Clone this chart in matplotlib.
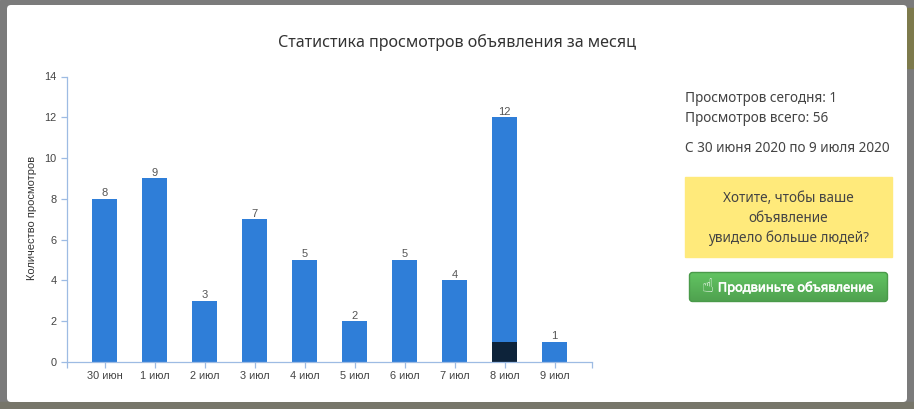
import numpy as np
import matplotlib
matplotlib.use('Agg')
import matplotlib.pyplot as plt
import matplotlib.patheffects as pe
from matplotlib.colors import LinearSegmentedColormap
from matplotlib.patches import FancyBboxPatch, Rectangle

W, H = 914, 409

days = ['30 июн', '1 июл', '2 июл', '3 июл', '4 июл', '5 июл', '6 июл', '7 июл', '8 июл', '9 июл']
views_total = [8, 9, 3, 7, 5, 2, 5, 4, 12, 1]
views_dark = [0, 0, 0, 0, 0, 0, 0, 0, 1, 0]
y_ticks = [0, 2, 4, 6, 8, 10, 12, 14]

title = 'Статистика просмотров объявления за месяц'
y_label = 'Количество просмотров'
stats_lines = ['Просмотров сегодня: 1', 'Просмотров всего: 56', 'С 30 июня 2020 по 9 июля 2020']
promo_lines = ['Хотите, чтобы ваше', 'объявление', 'увидело больше людей?']
button_text = 'Продвиньте объявление'

BLUE = '#2f7ed8'
DARK = '#0d233a'
AXIS = '#9dbbe3'
TEXT = '#444444'
UI_FONT = ['Noto Sans', 'DejaVu Sans']
CHART_FONT = ['Liberation Sans', 'DejaVu Sans']

fig = plt.figure(figsize=(W / 100, H / 100), dpi=100)

# фон и окно в пиксельных координатах
bg = fig.add_axes([0, 0, 1, 1], zorder=0)
bg.axis('off')
bg.add_patch(Rectangle((0, 0), W, H, color='#7b7b7b'))
bg.add_patch(Rectangle((0, 402), W, 7, color='#77766a'))
bg.add_patch(Rectangle((907, 8), 7, 60, color='#7d7a4c'))
bg.add_patch(FancyBboxPatch((7, 5), 900, 397, boxstyle='round,pad=0,rounding_size=4',
                            fc='white', ec='none'))

bg.text(457, 42, title, fontsize=11.6, family=UI_FONT, color='#333333', ha='center', va='center')

for text, y in zip(stats_lines, [98, 118, 148]):
    bg.text(685, y, text, fontsize=9.75, family=UI_FONT, color=TEXT, ha='left', va='center')

bg.add_patch(Rectangle((685, 177), 207, 80, color='#ffea7b'))
for text, y in zip(promo_lines, [198, 218, 238]):
    bg.text(788.5, y, text, fontsize=9.75, family=UI_FONT, color=TEXT, ha='center', va='center')

# кнопка с градиентом
btn = FancyBboxPatch((689.5, 272.5), 198, 29, boxstyle='round,pad=0,rounding_size=3',
                     fc='none', ec='#4a9a4a', lw=1, zorder=2)
bg.add_patch(btn)
grad = np.linspace(0, 1, 32).reshape(-1, 1)
cmap = LinearSegmentedColormap.from_list('btn', ['#62c462', '#4fa14f'])
im = bg.imshow(grad, extent=(689, 888, 302, 272), cmap=cmap, aspect='auto', zorder=1.5)
im.set_clip_path(btn)
bg.set_xlim(0, W)
bg.set_ylim(H, 0)
bg.text(708, 287, '\u261d', fontsize=14, family=['DejaVu Sans'], color='white',
        ha='center', va='center', zorder=3)
bg.text(796, 288, button_text, fontsize=9.3, family=UI_FONT, color='white',
        ha='center', va='center', zorder=3,
        path_effects=[pe.withStroke(linewidth=0.4, foreground='white')])

# столбчатая диаграмма
left, right, top, bottom = 66.5, 591.5, 76.5, 362
ax = fig.add_axes([left / W, 1 - bottom / H, (right - left) / W, (bottom - top) / H], zorder=1)
ax.patch.set_alpha(0)
x = np.arange(len(days))
total = np.array(views_total)
dark = np.array(views_dark)
ax.bar(x, dark, width=0.5, color=DARK)
ax.bar(x, total - dark, width=0.5, bottom=dark, color=BLUE)
for xi, v in zip(x, total):
    ax.annotate(str(v), (xi, v), xytext=(0, 0.5), textcoords='offset points', ha='center', va='bottom',
                fontsize=8, family=CHART_FONT, color='#555555')

ax.set_xlim(-0.76, 9.74)
ax.set_ylim(0, 14)
ax.set_yticks(y_ticks)
ax.set_xticks(x)
ax.set_xticklabels(days)
for s in ['top', 'right']:
    ax.spines[s].set_visible(False)
for s in ['left', 'bottom']:
    ax.spines[s].set_color(AXIS)
    ax.spines[s].set_linewidth(0.9)
ax.tick_params(axis='both', color=AXIS, width=0.9, length=4.5, labelcolor=TEXT, labelsize=7.9, pad=2.5)
ax.tick_params(axis='x', pad=2)
for lb in ax.get_xticklabels() + ax.get_yticklabels():
    lb.set_family(CHART_FONT)
# крайние засечки по оси X
ax.set_xticks([-0.76, 9.74], minor=True)
ax.tick_params(axis='x', which='minor', color=AXIS, width=0.9, length=4.5)

bg.text(32, 218, y_label, fontsize=8, family=CHART_FONT, color='#333333', rotation=90,
        ha='center', va='center')

fig.savefig('out.png', dpi=100)
